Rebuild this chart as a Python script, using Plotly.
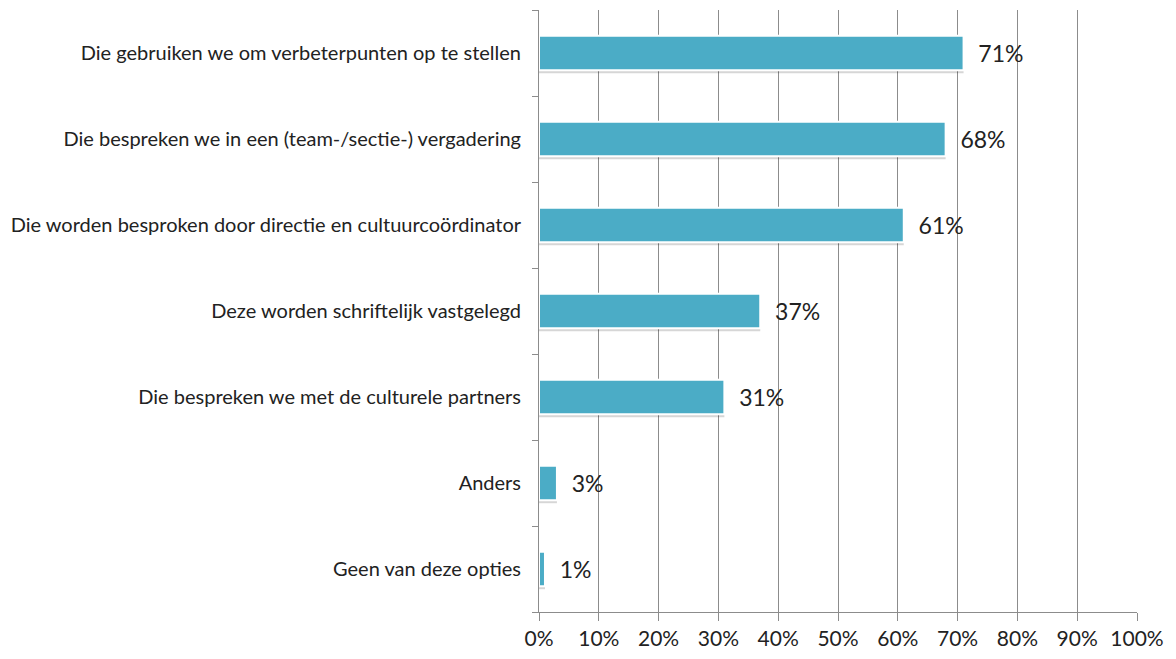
import plotly.graph_objects as go

categories = [
    "Die gebruiken we om verbeterpunten op te stellen",
    "Die bespreken we in een (team-/sectie-) vergadering",
    "Die worden besproken door directie en cultuurcoördinator",
    "Deze worden schriftelijk vastgelegd",
    "Die bespreken we met de culturele partners",
    "Anders",
    "Geen van deze opties",
]
values = [71, 68, 61, 37, 31, 3, 1]
labels = [f"  {v}%" for v in values]

FONT = "Lato, Calibri, 'Open Sans', sans-serif"

fig = go.Figure()
# soft shadow behind bars (slightly lower than the bar)
fig.add_trace(go.Bar(
    y=categories, x=values, orientation="h",
    marker=dict(color="rgba(0,0,0,0.16)", line=dict(width=0)),
    width=0.4, offset=-0.235, hoverinfo="skip", showlegend=False,
))
fig.add_trace(go.Bar(
    y=categories, x=values, orientation="h",
    marker=dict(color="#4BACC6", line=dict(color="white", width=2)),
    width=0.4,
    text=labels, textposition="outside",
    textfont=dict(family=FONT, size=23, color="#222222"),
    cliponaxis=False, showlegend=False,
))

# page body has an 8px margin, so the figure is sized to fit inside the window
fig.update_layout(
    width=1160, height=643,
    margin=dict(l=531, r=31, t=2, b=39, autoexpand=False),
    paper_bgcolor="white", plot_bgcolor="white",
    barmode="overlay", bargap=0.6,
    font=dict(family=FONT, color="#222222"),
)
fig.update_xaxes(
    range=[0, 100], dtick=10, ticksuffix="%",
    showgrid=True, gridcolor="#8c8c8c", gridwidth=1,
    showline=True, linecolor="#8c8c8c", linewidth=1,
    ticks="outside", ticklen=8, tickcolor="#8c8c8c",
    tickfont=dict(family=FONT, size=21, color="#222222"),
    zeroline=False, mirror=False, fixedrange=True, automargin=False,
)
fig.update_yaxes(
    categoryorder="array", categoryarray=categories[::-1],
    showline=True, linecolor="#8c8c8c", linewidth=1,
    ticks="outside", ticklen=6, tickcolor="#8c8c8c", tickson="boundaries",
    tickfont=dict(family=FONT, size=20, color="#222222"),
    ticklabelstandoff=13,
    showgrid=False, fixedrange=True, automargin=False,
)

fig.write_html("out.html")
